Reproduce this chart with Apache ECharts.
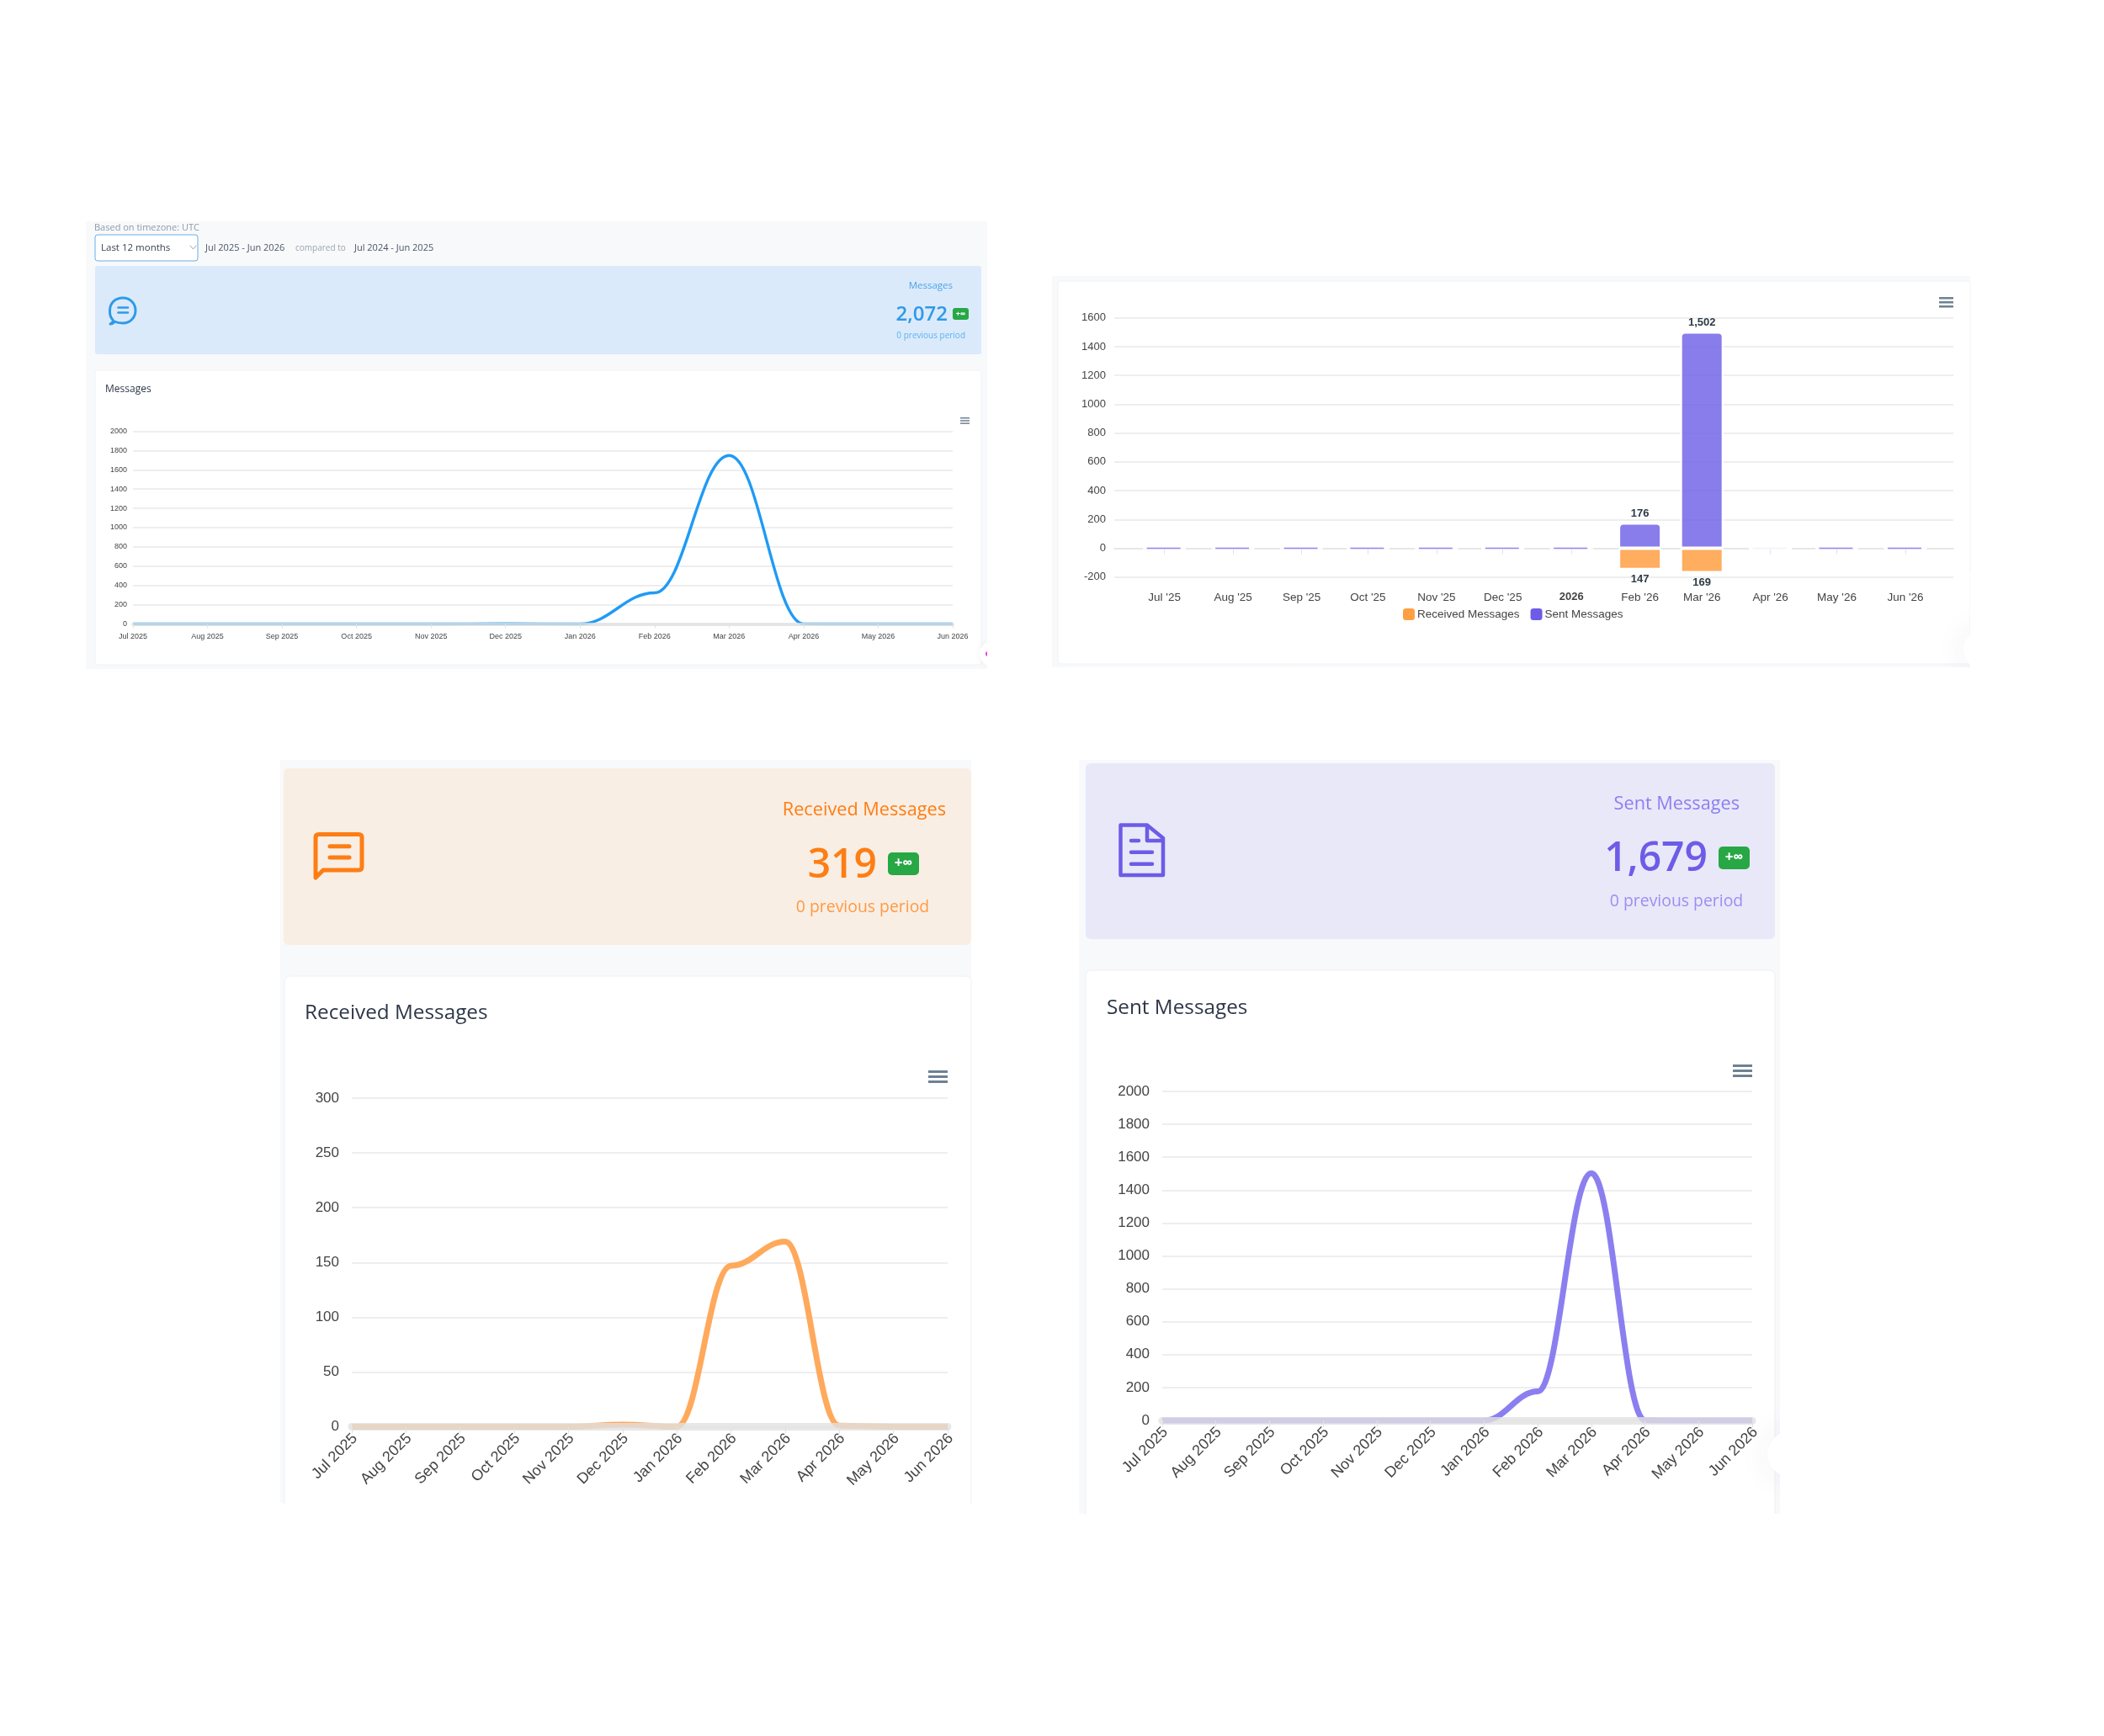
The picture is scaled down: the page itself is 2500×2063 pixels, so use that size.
<!DOCTYPE html>
<html>
<head>
<meta charset="utf-8">
<style>html,body{margin:0;padding:0;background:#fff}#c{width:2500px;height:2063px}</style>
<script src="https://cdn.jsdelivr.net/npm/echarts@6/dist/echarts.min.js"></script>
</head>
<body>
<div id="c"></div>
<script>
// Monthly labels for the dashboard's line charts
const monthLabels = ['Jul 2025','Aug 2025','Sep 2025','Oct 2025','Nov 2025','Dec 2025','Jan 2026','Feb 2026','Mar 2026','Apr 2026','May 2026','Jun 2026'];
// Series values per month
const messages = [0,0,0,0,0,2,0,323,1749,1,0,0];
const received = [0,0,0,0,0,2,0,147,169,1,0,0];
const sent     = [0,0,0,0,0,0,0,176,1502,1,0,0];
// Dates for the stacked time axis (bars sit on the first of the month)
const barDates = ['2025-07-01','2025-08-01','2025-09-01','2025-10-01','2025-11-01','2025-12-01','2026-01-01','2026-02-01','2026-03-01','2026-04-01','2026-05-01','2026-06-01'];
const barReceived = [0,0,0,0,0,-2,0,-147,-169,-1,0,0];
const barSent     = [0,0,0,0,0,0,0,176,1502,0,0,0];

const PURPLE='#6c5ce7', ORANGE='#fd7e14', GREEN='#28a745';
const SANS='"Open Sans"', AX='"Liberation Sans"';
const utc=d=>+new Date(d+'T00:00:00Z');

const g=[];
let pathCount=0;
const rect=(x,y,w,h,fill,r,stroke,z)=>g.push({type:'rect',z:z??-10,shape:{x,y,width:w,height:h,r:r||0},style:{fill,stroke:stroke||null,lineWidth:stroke?1:0},silent:true});
const text=(x,y,t,size,fill,align,weight,family)=>g.push({type:'text',z:5,x,y,style:{text:t,font:`${weight||400} ${size}px ${family||SANS}`,fill,align:align||'left',verticalAlign:'middle'},silent:true});
const path=(d,stroke,lw)=>{
  const name='icon'+(pathCount++);
  echarts.graphic.registerShape(name,echarts.graphic.extendPath(d,{}));
  g.push({type:name,z:5,style:{fill:'none',stroke,lineWidth:lw,lineCap:'round',lineJoin:'round'},silent:true});
};
const menu=(x,y,w,gap,t)=>{for(let i=0;i<3;i++)rect(x,y+i*gap,w,t,'#6e8192',0,null,5)};

// Panel backgrounds and cards
rect(102,263,1071,532,'#f8f9fb');
rect(1250,328,1091,465,'#f8f9fb');
rect(333,903,821,883,'#f8f9fb');
rect(1282,903,833,896,'#f8f9fb');
rect(113,316,1053,105,'#dbeafb',3);
rect(113,440,1053,350,'#ffffff',3,'#f0f2f5');
rect(1257,334,1084,455,'#ffffff',3,'#f0f2f5');
rect(337,913,817,210,'#f9eee4',6);
rect(338,1160,816,640,'#ffffff',6,'#eef0f4');
rect(1290,907,819,209,'#e9e8f9',6);
rect(1290,1153,819,660,'#ffffff',6,'#eef0f4');
// Cover the card bottoms that run past the panels
rect(330,1787,830,30,'#ffffff',0,null,-9);
rect(1280,1800,840,20,'#ffffff',0,null,-9);

// Overview header
text(112,271,'Based on timezone: UTC',11,'#8d9aa8');
rect(113,279,122,31,'#ffffff',3,'#66afe9');
text(120,294.5,'Last 12 months',11.5,'#39424e');
path('M226 292 L229.5 296 L233 292','#9aa5b1',1);
text(244,294.5,'Jul 2025 - Jun 2026',11,'#4a5568');
text(351,295,'compared to',10,'#9aa5b1');
text(421,294.5,'Jul 2024 - Jun 2025',11,'#4a5568');

// Messages banner
text(1132,340,'Messages',11.5,'#4aa3e6','right');
text(1126,374,'2,072',24,'#2f9ae8','right',600);
rect(1132,366,19,14,GREEN,3,null,5);
text(1141.5,373,'+∞',9,'#fff','center',700);
text(1147,399,'0 previous period',10,'#5cb1ee','right');
path('M131 385 C134 383 135 381 134 380 C130 376 130.5 372 130.5 369 C130.5 360 137 354 146 354 C155 354 161 361 161 369 C161 377 155 384 146 384 C141 384 138 383 136 382 C135 384 133 385 131 385 Z','#2f9ae8',3);
path('M140.5 365.5 L152 365.5 M140.5 371.5 L152 371.5','#2f9ae8',2.6);
text(125,463,'Messages',12,'#2d3748');
menu(1141,496,11,3.2,1.5);

// Received banner
text(1124,962.5,'Received Messages',21.7,ORANGE,'right');
text(1042,1029,'319',48,ORANGE,'right',600);
rect(1055,1013,37,27,GREEN,5,null,5);
text(1073.5,1026.5,'+∞',17,'#fff','center',700);
text(1025,1078,'0 previous period',19.4,'#ff9a45','center');
path('M375 1043 L375 995 Q375 991.5 379 991.5 L426 991.5 Q430 991.5 430 995 L430 1030 Q430 1034 426 1034 L384 1034 Z',ORANGE,5);
path('M392 1005.7 L415 1005.7 M392 1019 L415 1019',ORANGE,5);
text(362,1204.5,'Received Messages',24.3,'#2d3748');
menu(1103,1272,23,6,3);

// Sent banner
text(2067,956,'Sent Messages',21.7,'#8b7ff0','right');
text(2029,1021,'1,679',48,PURPLE,'right',600);
rect(2042,1006,37,27,GREEN,5,null,5);
text(2060.5,1019.5,'+∞',17,'#fff','center',700);
text(1992,1071,'0 previous period',19.4,'#9a8ff2','center');
path('M1331.5 980.5 L1363 980.5 L1382 996 L1382 1040 L1331.5 1040 Z M1363 980.5 L1363 999 L1382 999',PURPLE,4.5);
path('M1344 999 L1353 999 M1344 1012.7 L1369 1012.7 M1344 1026.7 L1369 1026.7',PURPLE,4.5);
text(1315,1198.5,'Sent Messages',24.3,'#2d3748');
menu(2059,1265,23,6,3);

// Stacked chart menu
menu(2304,353,17,5,2.5);

// Round floating widgets clipped by the panel edges
g.push({type:'circle',z:6,shape:{cx:1179,cy:777,r:15},style:{fill:'#fff',shadowBlur:10,shadowColor:'rgba(0,0,0,0.05)'},silent:true});
g.push({type:'circle',z:6,shape:{cx:1174,cy:777,r:3},style:{fill:'#e83fd8'},silent:true});
g.push({type:'circle',z:6,shape:{cx:2358,cy:772,r:25},style:{fill:'#fff',shadowBlur:40,shadowColor:'rgba(60,60,120,0.07)'},silent:true});
g.push({type:'circle',z:6,shape:{cx:2127,cy:1728,r:27},style:{fill:'#fff',shadowBlur:40,shadowColor:'rgba(60,60,120,0.07)'},silent:true});
// Trim what those widgets spill past the panels
rect(1173,740,60,80,'#ffffff',0,null,7);
rect(2341,680,110,170,'#ffffff',0,null,7);
rect(2200,793,141,60,'#ffffff',0,null,7);
rect(2115,1660,110,190,'#ffffff',0,null,7);
rect(2000,1799,115,50,'#ffffff',0,null,7);
// The time axis also ticks its two ends; only month ticks should show
rect(1320,687,8,10,'#ffffff',0,null,7);
rect(2317,687,8,10,'#ffffff',0,null,7);

const gridLine={show:true,lineStyle:{color:'#e9e9e9',width:1.5}};
function lineSet(i,box,data,color,max,interval,xFont,yFont,rotate,margin,lw,band,yMargin,pad){
  return {
    grid:{left:box[0],top:box[1],width:box[2]-box[0],height:box[3]-box[1]},
    x:{type:'category',gridIndex:i,boundaryGap:false,data:monthLabels,z:3,
       axisLine:{lineStyle:{color:'rgba(225,225,225,0.8)',width:band}},
       axisTick:{show:true,alignWithLabel:true,length:xFont>10?8:5,lineStyle:{color:'#dfe3e8',width:1}},
       axisLabel:{interval:0,rotate,margin,color:'#444',fontFamily:AX,fontSize:xFont,hideOverlap:false,padding:[0,pad,0,0]},splitLine:{show:false}},
    y:{type:'value',gridIndex:i,min:0,max,interval,axisLine:{show:false},axisTick:{show:false},
       axisLabel:{color:'#444',fontFamily:AX,fontSize:yFont,margin:yMargin,formatter:v=>String(v)},splitLine:gridLine},
    s:{type:'line',xAxisIndex:i,yAxisIndex:i,data,smooth:0.4,smoothMonotone:'x',symbol:'none',z:2,
       lineStyle:{color,width:lw,opacity:1},clip:false,silent:true}
  };
}
const A=lineSet(0,[158,512.5,1132,741.5],messages,'#1f9bf5',2000,200,9,9,0,11,3.4,4,7,0);
const C=lineSet(1,[418,1305,1126,1695.5],received,'#ffa95c',300,50,18,17,45,15,7,9,15,-5.5);
const D=lineSet(2,[1381,1297,2082,1688],sent,'#8b7ff0',2000,200,18,17,45,15,7,9,15,-5.5);

const option={
  animation:false,
  useUTC:true,
  backgroundColor:'#ffffff',
  graphic:{elements:g},
  grid:[A.grid,C.grid,D.grid,{left:1324,top:377.8,width:997,height:308}],
  legend:{left:1662,top:718,itemWidth:14,itemHeight:14,itemGap:13,icon:'roundRect',
    data:[{name:'Received Messages',itemStyle:{color:'#ff9f43',borderWidth:0}},{name:'Sent Messages',itemStyle:{color:PURPLE,borderWidth:0}}],
    textStyle:{fontFamily:AX,fontSize:13.5,color:'#444',padding:[0,0,0,-2]}},
  xAxis:[A.x,C.x,D.x,{type:'time',gridIndex:3,
    // Bars widen the extent by half their width on each side, which lands on 8 Jun 2025 - 22 Jun 2026
    min:utc('2025-06-18'),max:utc('2026-06-13'),
    splitNumber:13,
    axisLine:{show:true,lineStyle:{color:'#e3e3e3',width:1.5}},
    axisTick:{show:true,length:7,lineStyle:{color:'#dfe3e8'}},
    minorTick:{show:false},
    axisLabel:{margin:17,fontFamily:AX,fontSize:13.5,color:'#444',showMinLabel:false,showMaxLabel:false,hideOverlap:false,
      formatter:v=>{const d=new Date(v);const m=d.getUTCMonth();const y=d.getUTCFullYear();
        if(d.getUTCDate()!==1)return '';
        if(m===0)return '{yr|'+y+'}';
        return d.toLocaleString('en-US',{month:'short',timeZone:'UTC'})+" '"+String(y).slice(2);},
      rich:{yr:{fontWeight:700,fontFamily:AX,fontSize:13,color:'#444'}}},
    splitLine:{show:false}}],
  yAxis:[A.y,C.y,D.y,{type:'value',gridIndex:3,min:-200,max:1600,interval:200,axisLine:{show:false},axisTick:{show:false},
    axisLabel:{margin:10,fontFamily:AX,fontSize:13,color:'#444',formatter:v=>String(v)},
    splitLine:{show:true,lineStyle:{color:'#e9e9e9',width:1.5}}}],
  series:[A.s,C.s,D.s,
    {name:'Received Messages',type:'bar',xAxisIndex:3,yAxisIndex:3,stack:'m',barWidth:51,
     data:barDates.map((d,i)=>[utc(d),barReceived[i]]),
     itemStyle:{color:'rgba(255,159,67,0.85)',borderColor:'#fff',borderWidth:2},
     label:{show:true,position:'bottom',distance:5,fontFamily:AX,fontWeight:700,fontSize:13,color:'#2d3b45',
       formatter:p=>Math.abs(p.value[1])>10?Math.abs(p.value[1]).toLocaleString('en-US'):''}},
    {name:'Sent Messages',type:'bar',xAxisIndex:3,yAxisIndex:3,stack:'m',barWidth:51,
     data:barDates.map((d,i)=>[utc(d),barSent[i]]),
     itemStyle:{color:'rgba(108,92,231,0.8)',borderColor:'#fff',borderWidth:2,borderRadius:[5,5,0,0]},
     label:{show:true,position:'top',distance:5,fontFamily:AX,fontWeight:700,fontSize:13,color:'#2d3b45',
       formatter:p=>p.value[1]>10?p.value[1].toLocaleString('en-US'):''}},
    // Months with no sent messages still show a hairline on the zero line
    {type:'custom',xAxisIndex:3,yAxisIndex:3,z:3,silent:true,
     data:barDates.map((d,i)=>[utc(d),barSent[i],d==='2026-04-01'?0.08:0.75]).filter(r=>r[1]===0),
     renderItem:(p,api)=>{const c=api.coord([api.value(0),0]);
       return {type:'rect',shape:{x:c[0]-21,y:c[1]-0.75,width:40,height:1.5},style:{fill:PURPLE,opacity:api.value(2)}};}}
  ]
};
const chart=echarts.init(document.getElementById('c'),null,{renderer:'canvas',width:2500,height:2063});
chart.setOption(option);
</script>
</body>
</html>
